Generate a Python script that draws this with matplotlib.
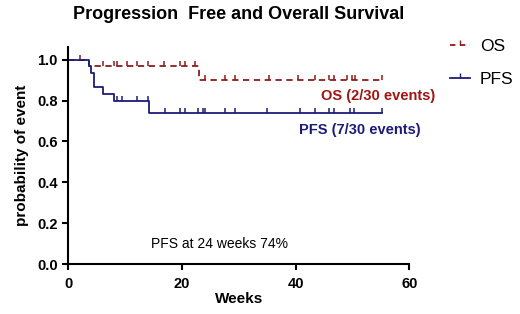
import matplotlib
matplotlib.use('Agg')
import matplotlib.pyplot as plt

plt.rcParams['font.family'] = ['Liberation Sans', 'DejaVu Sans']

# Kaplan-Meier steps (weeks, survival)
os_t = [0, 3.6, 23.0, 55.2]
os_s = [1.0, 0.967, 0.90, 0.90]
os_cens_t = [2.1, 6.2, 8.0, 8.6, 10.3, 12.1, 14.1, 16.8, 19.7, 20.6, 22.4,
             24.1, 27.6, 29.4, 35.3, 40.5, 43.5, 45.8, 46.7, 49.0, 49.9, 50.5, 55.2]
os_cens_s = [1.0] + [0.967] * 10 + [0.90] * 12

pfs_t = [0, 3.6, 4.0, 4.5, 6.2, 8.0, 14.3, 55.2]
pfs_s = [1.0, 0.967, 0.933, 0.867, 0.833, 0.80, 0.74, 0.74]
pfs_cens_t = [8.6, 9.4, 12.1, 14.1, 17.1, 19.7, 20.6, 22.9, 23.8, 24.1, 27.6, 29.4,
              35.0, 40.8, 43.5, 45.8, 46.7, 49.6, 50.2, 55.2]
pfs_cens_s = [0.80] * 4 + [0.74] * 16

os_color = '#8b1c1c'
pfs_color = '#1c1c78'
tick_marker = [(0, 0), (0, 1)]

fig = plt.figure(figsize=(5.2, 3.14), dpi=100)
ax = fig.add_axes([0.131, 0.159, 0.656, 0.69])

ax.step(os_t, os_s, where='post', color=os_color, lw=1.3, ls=(0, (3.5, 2.5)))
ax.plot(os_cens_t, os_cens_s, ls='none', marker=tick_marker, ms=7, mew=1.1, color=os_color)
ax.step(pfs_t, pfs_s, where='post', color=pfs_color, lw=1.3)
ax.plot(pfs_cens_t, pfs_cens_s, ls='none', marker=tick_marker, ms=7, mew=1.1, color=pfs_color)

# legend
ax.plot([], [], color=os_color, lw=1.3, ls=(0, (3, 2.5)), marker=tick_marker, ms=7, label='OS')
ax.plot([], [], color=pfs_color, lw=1.3, marker=tick_marker, ms=7, label='PFS')
handles = ax.get_lines()[-2:]
ax.legend(handles=handles, loc='upper left', bbox_to_anchor=(1.075, 1.11), frameon=False,
          fontsize=12.5, handlelength=1.1, labelspacing=1.0, handletextpad=0.6)

ax.text(44.4, 0.82, 'OS (2/30 events)', color='#a01414', fontsize=10.5, fontweight='bold',
        ha='left', va='center', clip_on=False)
ax.text(40.6, 0.655, 'PFS (7/30 events)', color=pfs_color, fontsize=10.5, fontweight='bold',
        ha='left', va='center', clip_on=False)
ax.text(14.6, 0.1, 'PFS at 24 weeks 74%', fontsize=10, va='center')

ax.set_xlim(0, 60)
ax.set_ylim(0, 1.06)
ax.set_xticks([0, 20, 40, 60])
ax.set_yticks([0.0, 0.2, 0.4, 0.6, 0.8, 1.0])
ax.set_yticklabels(['0.0', '0.2', '0.4', '0.6', '0.8', '1.0'])
for lab in ax.get_xticklabels() + ax.get_yticklabels():
    lab.set_fontweight('bold')
    lab.set_fontsize(10.5)
ax.spines['top'].set_visible(False)
ax.spines['right'].set_visible(False)
ax.spines['left'].set_linewidth(1.5)
ax.spines['bottom'].set_linewidth(1.5)
ax.tick_params(width=1.5, length=4)
ax.tick_params(axis='x', pad=5)

ax.set_xlabel('Weeks', fontsize=11, fontweight='bold', labelpad=1)
ax.set_ylabel('probability of event', fontsize=11, fontweight='bold', labelpad=6)
fig.text(0.458, 0.955, 'Progression  Free and Overall Survival', fontsize=13, fontweight='bold',
         ha='center', va='center')

fig.savefig('out.png', dpi=100)
